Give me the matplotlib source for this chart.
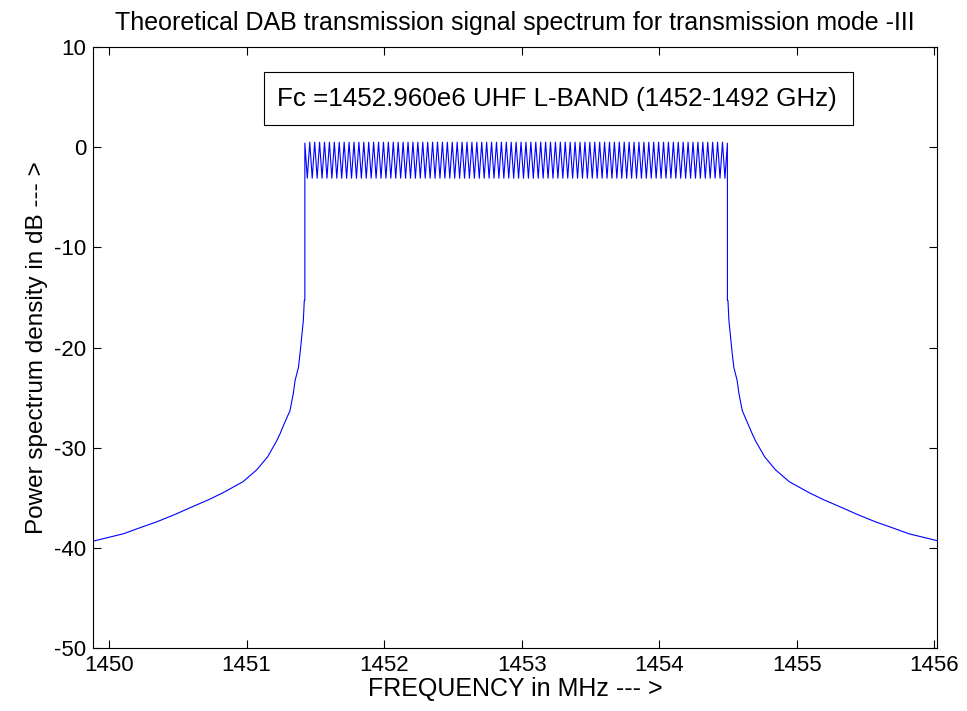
import numpy as np
import matplotlib
matplotlib.use("Agg")
import matplotlib.pyplot as plt
from matplotlib.patches import Rectangle

plt.rcParams['font.family'] = ['Liberation Sans', 'DejaVu Sans']
plt.rcParams['axes.unicode_minus'] = False

# ---- data ----
band_center_mhz = 1452.96
band_half_width_mhz = 1.536
ripple_peak_db = 0.5
ripple_trough_db = -3.1
ripple_cycles = 86
edge_top_db = 0.4
# skirt: offset outward from band edge (MHz) vs level (dB)
skirt_offset_mhz = [0.004, 0.011, 0.023, 0.035, 0.047, 0.071, 0.084, 0.108,
                    0.13, 0.156, 0.18, 0.204, 0.27, 0.349, 0.45, 0.595, 0.7,
                    0.835, 0.95, 1.076, 1.2, 1.32, 1.44, 1.56]
skirt_db = [-15.3, -17.3, -19.0, -20.6, -22.0, -23.3, -24.6, -26.3,
            -27.0, -27.8, -28.6, -29.3, -30.9, -32.2, -33.4, -34.5, -35.2,
            -36.0, -36.7, -37.4, -38.0, -38.6, -39.0, -39.4]

x_ticks = [1450, 1451, 1452, 1453, 1454, 1455, 1456]
y_ticks = [-50, -40, -30, -20, -10, 0, 10]
x_lim = (1449.884, 1456.02)
y_lim = (-50, 10)

title = "Theoretical DAB transmission signal spectrum for transmission mode -III"
xlabel = "FREQUENCY in MHz --- >"
ylabel = "Power spectrum density in dB --- >"
note = "Fc =1452.960e6 UHF L-BAND (1452-1492 GHz)"

# ---- build the curve ----
f_lo = band_center_mhz - band_half_width_mhz
f_hi = band_center_mhz + band_half_width_mhz
off = np.array(skirt_offset_mhz)
sk = np.array(skirt_db)

left_x = (f_lo - off)[::-1]
left_y = sk[::-1]
n = 2 * ripple_cycles
rx = np.linspace(f_lo, f_hi, n + 1)
ry = np.array([ripple_peak_db if i % 2 == 0 else ripple_trough_db for i in range(n + 1)])
ry[0] = edge_top_db
ry[-1] = edge_top_db
right_x = f_hi + off
right_y = sk

x = np.concatenate([left_x, [f_lo], rx, [f_hi], right_x])
y = np.concatenate([left_y, [sk[0]], ry, [sk[0]], right_y])

fig = plt.figure(figsize=(9.67, 7.11), dpi=100)
ax = fig.add_axes([0.0962, 0.0886, 0.8728, 0.8453])
ax.plot(x, y, color='#0000ff', linewidth=0.8)
ax.set_xlim(*x_lim)
ax.set_ylim(*y_lim)
ax.set_xticks(x_ticks)
ax.set_yticks(y_ticks)
ax.tick_params(direction='in', length=6, width=0.8, top=True, right=True,
               labelsize=16, pad=5)
for s in ax.spines.values():
    s.set_linewidth(0.8)
ax.set_title(title, fontsize=18, pad=12)
ax.set_xlabel(xlabel, fontsize=18, labelpad=1)
ax.set_ylabel(ylabel, fontsize=17.5, labelpad=4)

ax.add_patch(Rectangle((0.2026, 0.8702), 0.6979, 0.0882, transform=ax.transAxes,
                       fill=False, edgecolor='black', linewidth=0.8))
ax.text(0.218, 0.914, note, transform=ax.transAxes, fontsize=18.7,
        ha='left', va='center')

fig.savefig("out.png", dpi=100)
